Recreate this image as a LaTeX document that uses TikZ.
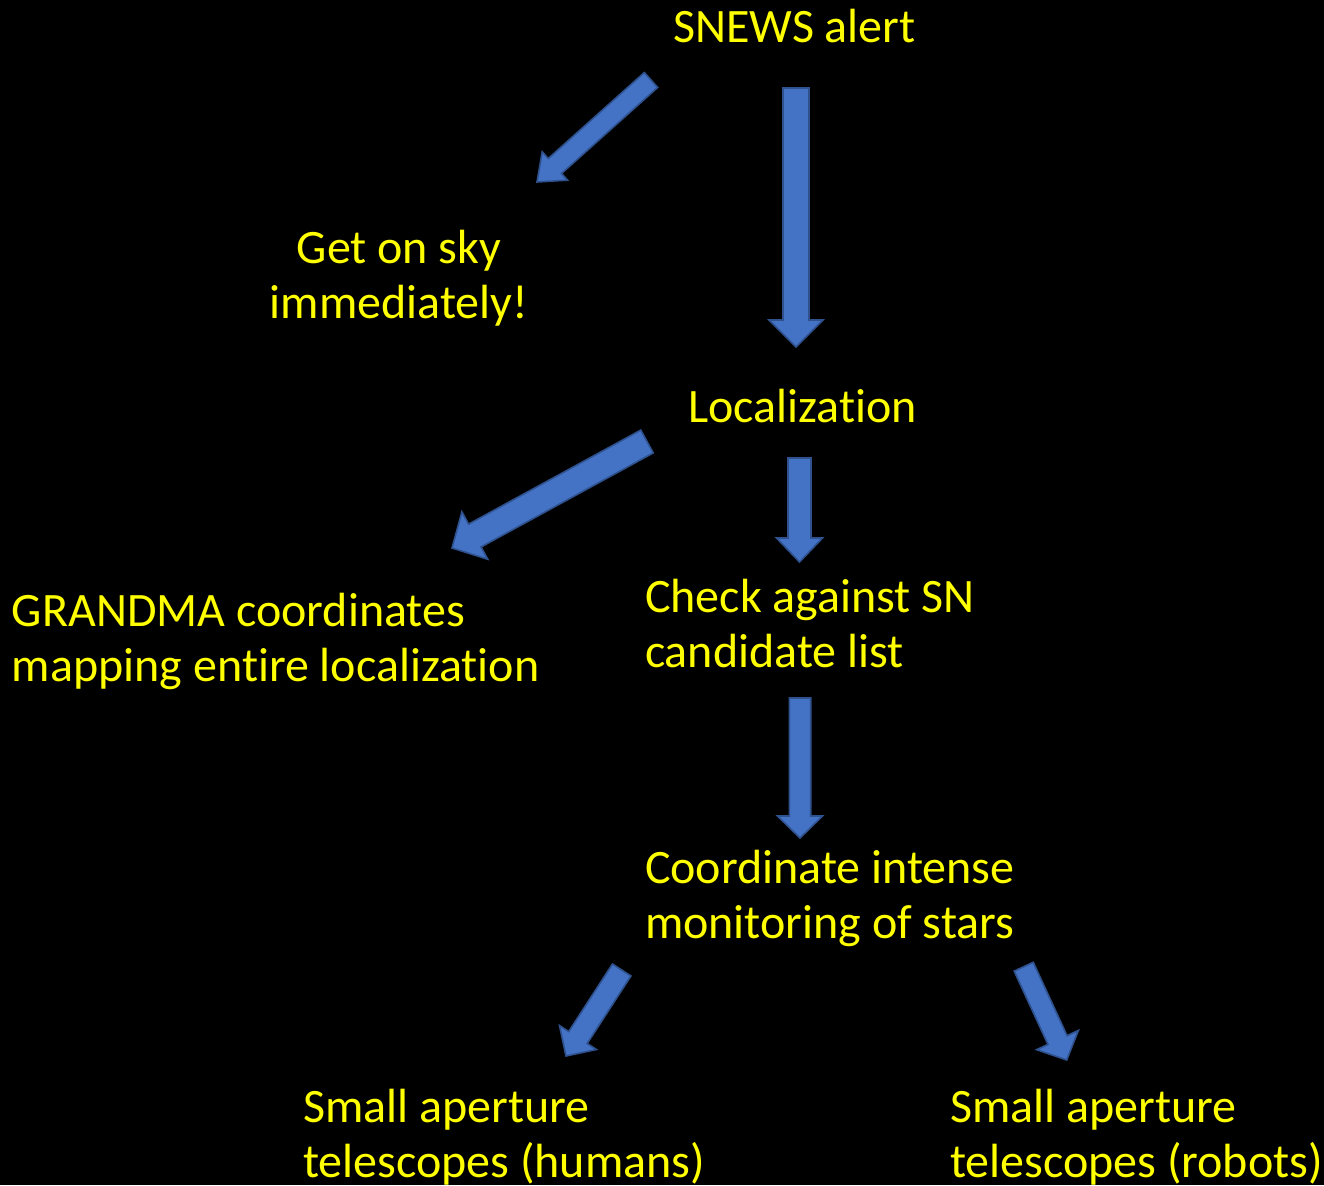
\documentclass[tikz,border=0pt]{standalone}
\usepackage{fontspec}
\setmainfont{Carlito}[Ligatures=NoCommon]
\usetikzlibrary{calc}
\definecolor{txtyellow}{RGB}{255,255,0}
\definecolor{arrfill}{RGB}{68,114,196}
\definecolor{arrline}{RGB}{47,82,143}
\tikzset{
  lbl/.style={text=txtyellow, font=\fontsize{48}{55.5}\selectfont, inner sep=0pt, outer sep=0pt},
  blockarrow/.style={fill=arrfill, draw=arrline, line width=1.6pt, line join=miter}
}
% #1 tail, #2 tip, #3 half shaft width, #4 half head width, #5 head length
\newcommand{\blockarr}[5]{%
  \coordinate (ba-b) at ($(#2)!#5!(#1)$);
  \draw[blockarrow] ($(#1)!#3!90:(#2)$) -- ($(ba-b)!#3!90:(#2)$) -- ($(ba-b)!#4!90:(#2)$)
    -- (#2) -- ($(ba-b)!#4!-90:(#2)$) -- ($(ba-b)!#3!-90:(#2)$) -- ($(#1)!#3!-90:(#2)$) -- cycle;}
\begin{document}
\begin{tikzpicture}[x=1pt,y=-1pt]
\fill[black] (0,0) rectangle (1324,1185);
\useasboundingbox (0,0) rectangle (1324,1185);

% texts (multi-line nodes: base anchor is on the last line)
\node[lbl, anchor=base west] (snews) at (673,43) {SNEWS alert};
\node[lbl, anchor=base, align=center] (sky) at (399,318.5) {Get on sky\\immediately!};
\node[lbl, anchor=base west] (loc) at (688,422) {Localization};
\node[lbl, anchor=base west, align=left] (grandma) at (12,681.5) {GRANDMA coordinates\\mapping entire localization};
\node[lbl, anchor=base west, align=left] (check) at (645,667.5) {Check against SN\\candidate list};
\node[lbl, anchor=base west, align=left] (coord) at (645,938.5) {Coordinate intense\\monitoring of stars};
\node[lbl, anchor=base west, align=left] (humans) at (303,1177.5) {Small aperture\\telescopes (humans)};
\node[lbl, anchor=base west, align=left] (robots) at (950,1177.5) {Small aperture\\telescopes (robots)};

% arrow end points
\coordinate (a1t) at (651,80);    \coordinate (a1h) at (537,182);
\coordinate (a2t) at (796,88);    \coordinate (a2h) at (796,347);
\coordinate (a3t) at (647,441.5); \coordinate (a3h) at (452,548);
\coordinate (a4t) at (799.5,458); \coordinate (a4h) at (799.5,562);
\coordinate (a5t) at (800,698);   \coordinate (a5h) at (800,838);
\coordinate (a6t) at (621.7,970); \coordinate (a6h) at (566,1056);
\coordinate (a7t) at (1023.7,966.7); \coordinate (a7h) at (1066.7,1060);

\blockarr{a1t}{a1h}{10pt}{19pt}{24pt}
\blockarr{a2t}{a2h}{13pt}{27pt}{27pt}
\blockarr{a3t}{a3h}{13pt}{27pt}{26pt}
\blockarr{a4t}{a4h}{11.5pt}{23pt}{24pt}
\blockarr{a5t}{a5h}{10.7pt}{22.5pt}{22pt}
\blockarr{a6t}{a6h}{11pt}{22pt}{22pt}
\blockarr{a7t}{a7h}{10.5pt}{23pt}{22pt}
\end{tikzpicture}
\end{document}
